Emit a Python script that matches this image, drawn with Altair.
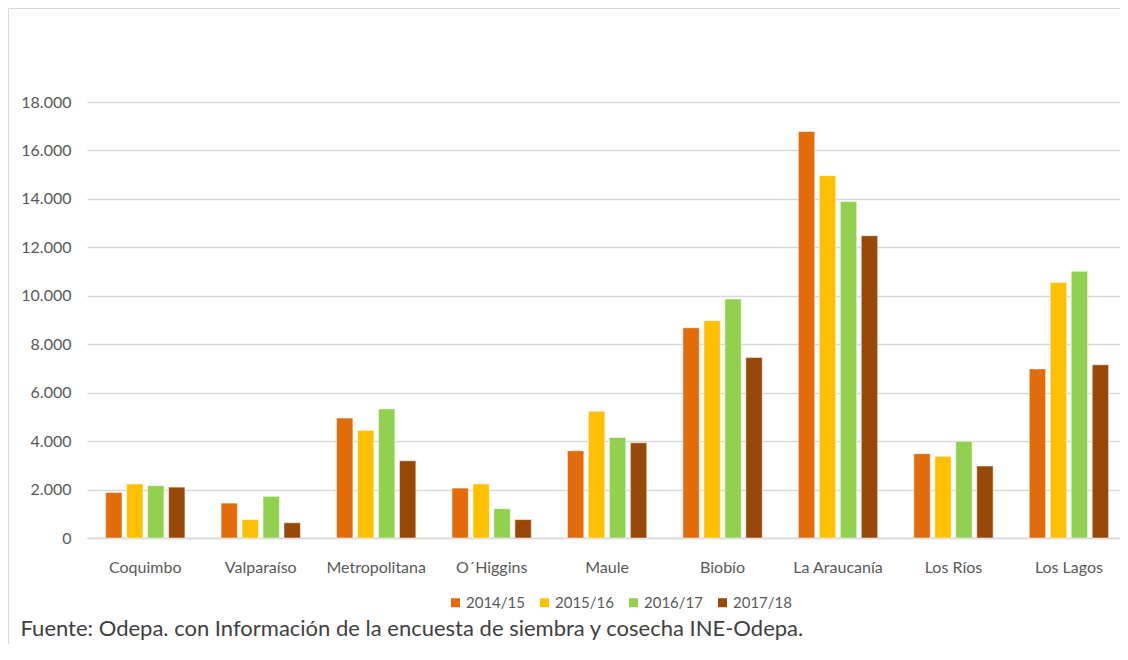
import altair as alt
import pandas as pd

regions = ["Coquimbo", "Valparaíso", "Metropolitana", "O´Higgins", "Maule",
           "Biobío", "La Araucanía", "Los Ríos", "Los Lagos"]
seasons = ["2014/15", "2015/16", "2016/17", "2017/18"]
v2014 = [1880, 1440, 4950, 2060, 3600, 8680, 16780, 3480, 6980]
v2015 = [2230, 760, 4440, 2230, 5230, 8970, 14960, 3370, 10550]
v2016 = [2160, 1720, 5330, 1210, 4150, 9870, 13890, 3990, 11010]
v2017 = [2100, 630, 3190, 760, 3930, 7450, 12480, 2970, 7150]
colors = ["#E36C0A", "#FFC000", "#92D050", "#984807"]
source = "Fuente: Odepa. con Información de la encuesta de siembra y cosecha INE-Odepa."

rows = []
for s, vals in zip(seasons, [v2014, v2015, v2016, v2017]):
    for r, v in zip(regions, vals):
        rows.append({"region": r, "season": s, "value": v})
df = pd.DataFrame(rows)

FONT = "Lato"
TXT = "#595959"

bars = alt.Chart(df).mark_bar(stroke="white", strokeWidth=0.5).encode(
    x=alt.X("region:N", sort=regions, title=None,
            scale=alt.Scale(paddingInner=0.313, paddingOuter=0.13, align=0.62),
            axis=alt.Axis(labelAngle=0, ticks=False, domainColor="#d9d9d9",
                          domainWidth=1.5, labelPadding=21, labelFontSize=16,
                          labelColor=TXT, labelFont=FONT)),
    xOffset=alt.XOffset("season:N", sort=seasons,
                        scale=alt.Scale(paddingInner=0.22)),
    y=alt.Y("value:Q", title=None,
            scale=alt.Scale(domain=[0, 18000], nice=False),
            axis=alt.Axis(values=list(range(0, 18001, 2000)),
                          labelExpr="replace(format(datum.value, ','), ',', '.')",
                          domain=False, ticks=False, gridColor="#d9d9d9",
                          gridWidth=1.5, labelPadding=16, labelFontSize=16,
                          labelColor=TXT, labelFont=FONT)),
    color=alt.Color("season:N", sort=seasons,
                    scale=alt.Scale(domain=seasons, range=colors),
                    legend=alt.Legend(title=None, orient="none", direction="horizontal",
                                      legendX=361, legendY=493, symbolType="square",
                                      symbolSize=81, symbolStrokeWidth=0,
                                      labelFontSize=15, labelColor=TXT, labelFont=FONT,
                                      labelOffset=3, columnPadding=12)),
)

note = alt.Chart(alt.Data(values=[{"t": source}])).mark_text(
    align="left", baseline="alphabetic", fontSize=22, color="#404040", font=FONT
).encode(x=alt.value(-66.5), y=alt.value(533.5), text="t:N")

one = alt.Data(values=[{}])
left_edge = alt.Chart(one).mark_rule(stroke="#d9d9d9", strokeWidth=1).encode(
    x=alt.value(-78.5), y=alt.value(-93.5), y2=alt.value(600))
top_edge = alt.Chart(one).mark_rule(stroke="#d9d9d9", strokeWidth=1).encode(
    x=alt.value(-78.5), x2=alt.value(1100), y=alt.value(-93.5))

chart = alt.layer(left_edge, top_edge, bars, note).properties(
    width=1033, height=436,
    autosize=alt.AutoSizeParams(type="none"),
    padding={"left": 79, "top": 94, "right": 0, "bottom": 106},
    background="white",
).configure_view(stroke=None)

chart.save("out.html", embed_options={"renderer": "svg", "actions": False})
